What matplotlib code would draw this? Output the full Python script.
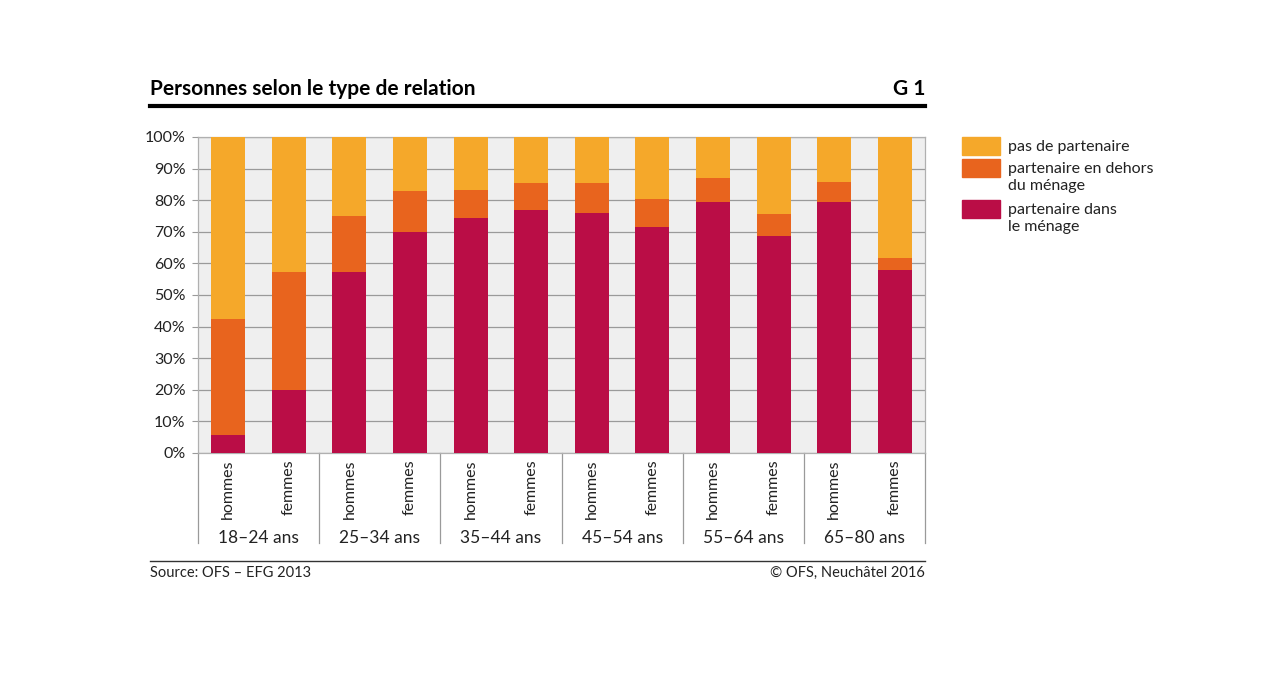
import matplotlib
matplotlib.use("Agg")
import matplotlib.pyplot as plt
from matplotlib.patches import Rectangle
from matplotlib.transforms import blended_transform_factory
import numpy as np

# data (percent)
groups = ["18–24 ans", "25–34 ans", "35–44 ans", "45–54 ans", "55–64 ans", "65–80 ans"]
sexes = ["hommes", "femmes"]
dans_menage = [5.8, 19.8, 57.3, 69.8, 74.4, 77.0, 75.8, 71.6, 79.5, 68.8, 79.5, 57.8]
hors_menage = [36.7, 37.6, 17.8, 13.2, 8.9, 8.4, 9.5, 8.7, 7.4, 6.8, 6.3, 3.9]
pas_partenaire = [57.5, 42.6, 24.9, 17.0, 16.7, 14.6, 14.7, 19.7, 13.1, 24.4, 14.2, 38.3]

labels = ["pas de partenaire", "partenaire en dehors\ndu ménage", "partenaire dans\nle ménage"]
colors = ["#F5A82A", "#E8641E", "#BA0D46"]

main_font = ["Lato", "DejaVu Sans"]
txt = "#222222"

fig = plt.figure(figsize=(12.8, 6.86), dpi=100)
ax = fig.add_axes([198/1280, 1-453/686, 727/1280, 316/686])
ax.set_facecolor("#EFEFEF")

x = np.arange(len(dans_menage))
w = 0.56
bottom2 = np.array(dans_menage) + np.array(hors_menage)
ax.bar(x, dans_menage, w, color=colors[2], zorder=3)
ax.bar(x, hors_menage, w, bottom=dans_menage, color=colors[1], zorder=3)
ax.bar(x, pas_partenaire, w, bottom=bottom2, color=colors[0], zorder=3)

ax.set_xlim(-0.5, len(x) - 0.5)
ax.set_ylim(0, 100)
ax.set_yticks(np.arange(0, 101, 10))
ax.set_yticklabels([f"{v}%" for v in range(0, 101, 10)], fontsize=11.5, family=main_font, color=txt)
ax.yaxis.grid(True, color="#9A9A9A", lw=0.9, zorder=1)
ax.tick_params(axis="y", length=4, color="#9A9A9A", pad=5)
ax.set_xticks([])
for s in ax.spines.values():
    s.set_color("#B0B0B0")
    s.set_linewidth(0.9)

# x labels: sex rotated, age groups below, group separators
trans = blended_transform_factory(ax.transData, ax.transAxes)
for i, xi in enumerate(x):
    ax.text(xi, -0.02, sexes[i % 2], rotation=90, ha="center", va="top",
            transform=trans, fontsize=11.5, family=main_font, color=txt)
for g, name in enumerate(groups):
    ax.text(2 * g + 0.5, -0.268, name, ha="center", va="center", transform=trans,
            fontsize=12.5, family=main_font, color=txt)
for b in np.arange(-0.5, len(x) + 1, 2):
    ax.plot([b, b], [0, -0.285], transform=trans, color="#9A9A9A", lw=0.9, clip_on=False)

# title and header rule
fig.text(150/1280, 1-89/686, "Personnes selon le type de relation", ha="left", va="center",
         fontsize=15, fontweight="bold", family=main_font)
fig.text(925/1280, 1-89/686, "G 1", ha="right", va="center",
         fontsize=15, fontweight="bold", family=main_font)
fig.add_artist(plt.Line2D([150/1280, 925/1280], [1-106/686]*2, color="black", lw=3))

# footer
fig.add_artist(plt.Line2D([150/1280, 925/1280], [1-561/686]*2, color="#333333", lw=1))
fig.text(150/1280, 1-573/686, "Source: OFS – EFG 2013", ha="left", va="center",
         fontsize=10.5, family=main_font, color=txt)
fig.text(925/1280, 1-573/686, "© OFS, Neuchâtel 2016", ha="right", va="center",
         fontsize=10.5, family=main_font, color=txt)

# legend
ys = [146, 168, 209]
for lab, col, yy in zip(labels, colors, ys):
    fig.add_artist(Rectangle((962/1280, 1-(yy+9)/686), 38/1280, 18/686,
                             color=col, transform=fig.transFigure))
    fig.text(1008/1280, 1-(yy-6)/686, lab, ha="left", va="top", fontsize=11.5,
             family=main_font, linespacing=1.3, color=txt)

fig.savefig("out.png", dpi=100)
